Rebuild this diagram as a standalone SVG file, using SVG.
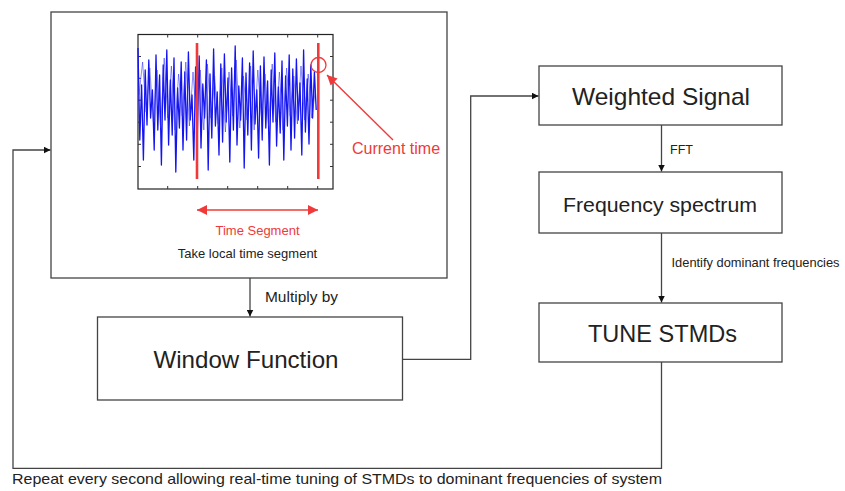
<svg xmlns="http://www.w3.org/2000/svg" width="845" height="491" viewBox="0 0 845 491">
<defs>
<style>
.box{fill:#fff;stroke:#444;stroke-width:1.3}
.conn{fill:none;stroke:#444;stroke-width:1.3}
.lbl{font-family:"Liberation Sans",Arial,sans-serif;fill:#222}
.red{stroke:#f03a3a;fill:none}
.tick{stroke:#333;stroke-width:1}
</style>
<marker id="ah" viewBox="0 0 10 10" refX="10" refY="5" markerWidth="7" markerHeight="7" markerUnits="userSpaceOnUse" orient="auto"><path d="M0,0 L10,5 L0,10 z" fill="#111"/></marker>
<marker id="rah" viewBox="0 0 10 10" refX="10" refY="5" markerWidth="10" markerHeight="10" markerUnits="userSpaceOnUse" orient="auto-start-reverse"><path d="M0,0 L10,5 L0,10 z" fill="#f03a3a"/></marker>
</defs>
<rect width="845" height="491" fill="#fff"/>

<g id="local-segment">
<rect class="box" x="51" y="12" width="396" height="266"/>
<rect x="138" y="34.5" width="195" height="154.5" fill="#fff" stroke="#222" stroke-width="1.2"/>
<g class="tick">
<path d="M167.7 34.5v3M197.7 34.5v3M227.7 34.5v3M257.7 34.5v3M287.7 34.5v3M317.7 34.5v3"/>
<path d="M167.7 189v-3M197.7 189v-3M227.7 189v-3M257.7 189v-3M287.7 189v-3M317.7 189v-3"/>
<path d="M138 56.5h3M138 78.3h3M138 100.2h3M138 122.2h3M138 144.3h3M138 166.5h3"/>
<path d="M333 56.5h-3M333 78.3h-3M333 100.2h-3M333 122.2h-3M333 144.3h-3M333 166.5h-3"/>
</g>
<polyline fill="none" stroke="#1414f0" stroke-width="1.3" stroke-linejoin="round" points="138,48 139.8,140 141.6,85 143.4,160 145.2,70 147,125 148.8,60 150.6,118 152.4,90 154.2,150 156,55 157.8,130 159.6,75 161.4,165 163.2,65 165,120 166.8,50 168.6,145 170.4,80 172.2,135 174,58 175.8,172 177.6,88 179.4,128 181.2,62 183,150 184.8,72 186.6,140 188.4,52 190.2,120 192,95 193.8,160 195.6,67 197.4,132 199.2,56 201,148 202.8,84 204.6,118 206.4,60 208.2,170 210,74 211.8,138 213.6,49 215.4,126 217.2,92 219,155 220.8,64 222.6,142 224.4,54 226.2,122 228,78 229.8,162 231.6,68 233.4,130 235.2,46 237,145 238.8,86 240.6,120 242.4,58 244.2,168 246,73 247.8,135 249.6,63 251.4,150 253.2,51 255,124 256.8,90 258.6,158 260.4,66 262.2,140 264,57 265.8,128 267.6,81 269.4,165 271.2,70 273,122 274.8,53 276.6,146 278.4,87 280.2,133 282,61 283.8,160 285.6,76 287.4,126 289.2,55 291,150 292.8,69 294.6,138 296.4,59 298.2,120 300,83 301.8,155 303.6,50 305.4,132 307.2,79 309,144 310.8,65 312.6,118 314.4,72 316.2,110"/>
<polyline fill="none" stroke="#2a2af5" stroke-width="0.9" stroke-linejoin="round" opacity="0.6" points="139,95 142.6,62 146.2,112 149.8,68 153.4,122 157,70 160.6,128 164.2,58 167.8,118 171.4,66 175,130 178.6,74 182.2,116 185.8,62 189.4,126 193,72 196.6,120 200.2,70 203.8,130 207.4,64 211,118 214.6,76 218.2,124 221.8,68 225.4,132 229,72 232.6,116 236.2,60 239.8,128 243.4,76 247,120 250.6,66 254.2,130 257.8,70 261.4,118 265,74 268.6,126 272.2,64 275.8,122 279.4,72 283,130 286.6,68 290.2,116 293.8,76 297.4,124 301,66 304.6,120 308.2,74 311.8,118 315.4,90"/>
<line class="red" x1="197" y1="43" x2="197" y2="179" stroke-width="2.6"/>
<line class="red" x1="318.3" y1="43" x2="318.3" y2="179" stroke-width="2.6"/>
<circle class="red" cx="318.5" cy="65" r="7.5" stroke-width="1.3"/>
<line class="red" x1="393" y1="140" x2="327" y2="75" stroke-width="1.4" marker-end="url(#rah)"/>
<line class="red" x1="197" y1="210" x2="318" y2="210" stroke-width="1.4" marker-start="url(#rah)" marker-end="url(#rah)"/>
<text class="lbl" x="352" y="154" font-size="16" style="fill:#ee3a3a">Current time</text>
<text class="lbl" x="257.5" y="235" font-size="13" text-anchor="middle" style="fill:#ee3a3a">Time Segment</text>
<text class="lbl" x="247.5" y="258" font-size="13" text-anchor="middle">Take local time segment</text>
</g>

<g id="window-function">
<rect class="box" x="97.5" y="317" width="305" height="83"/>
<text class="lbl" x="246" y="368" font-size="24" text-anchor="middle" textLength="185" lengthAdjust="spacingAndGlyphs">Window Function</text>
</g>

<g id="weighted-signal">
<rect class="box" x="539" y="66" width="243" height="59"/>
<text class="lbl" x="661" y="105" font-size="24" text-anchor="middle" textLength="178" lengthAdjust="spacingAndGlyphs">Weighted Signal</text>
</g>

<g id="frequency-spectrum">
<rect class="box" x="539" y="172" width="243" height="61"/>
<text class="lbl" x="660" y="211.5" font-size="21" text-anchor="middle" textLength="194" lengthAdjust="spacingAndGlyphs">Frequency spectrum</text>
</g>

<g id="tune-stmds">
<rect class="box" x="539" y="303" width="243" height="59"/>
<text class="lbl" x="662.5" y="341.5" font-size="23.5" text-anchor="middle" textLength="149" lengthAdjust="spacingAndGlyphs">TUNE STMDs</text>
</g>

<g id="connectors">
<path class="conn" d="M250 278 V316.5" marker-end="url(#ah)"/>
<path class="conn" d="M402.5 359.3 H470.7 V96 H538.5" marker-end="url(#ah)"/>
<path class="conn" d="M661.5 125 V171.5" marker-end="url(#ah)"/>
<path class="conn" d="M661.5 233 V302.5" marker-end="url(#ah)"/>
<path class="conn" d="M661.5 362 V468.3 H13 V150 H50.5" marker-end="url(#ah)"/>
<text class="lbl" x="265" y="301.5" font-size="15" textLength="73" lengthAdjust="spacingAndGlyphs">Multiply by</text>
<text class="lbl" x="670" y="154" font-size="12" textLength="23" lengthAdjust="spacingAndGlyphs">FFT</text>
<text class="lbl" x="671.5" y="266.5" font-size="13" textLength="168" lengthAdjust="spacingAndGlyphs">Identify dominant frequencies</text>
<text class="lbl" x="12" y="484" font-size="15" textLength="650" lengthAdjust="spacingAndGlyphs">Repeat every second allowing real-time tuning of STMDs to dominant frequencies of system</text>
</g>
</svg>
